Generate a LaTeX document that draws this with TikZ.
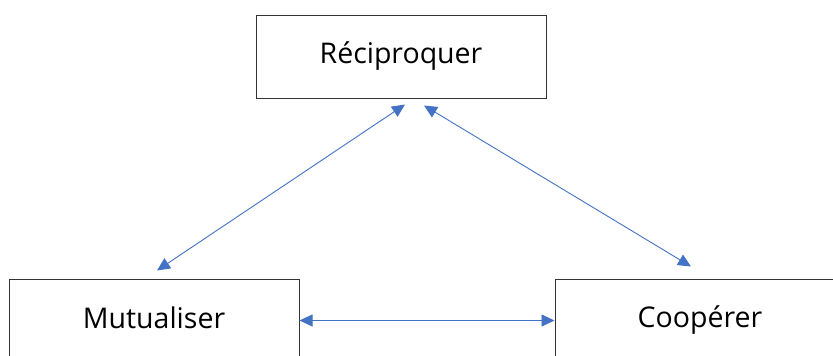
\documentclass[tikz,border=0pt]{standalone}
\usepackage{fontspec}
\setmainfont{Open Sans}
\usetikzlibrary{arrows.meta,calc}
\definecolor{framegray}{HTML}{333333}
\definecolor{linkblue}{HTML}{4472C4}
\begin{document}
\begin{tikzpicture}[x=1pt,y=1pt,
  box/.style={draw=framegray,line width=1pt,fill=white,minimum width=290pt,minimum height=83pt,inner sep=0pt,
    font=\fontsize{28.5}{34}\selectfont,text=black},
  link/.style={draw=linkblue,line width=0.9pt,{Triangle[length=13pt,width=12pt]}-{Triangle[length=13pt,width=12pt]}}]
  \useasboundingbox (0,0) rectangle (833,-356);
  \clip (0,0) rectangle (833,-356);
  \fill[white] (0,0) rectangle (833,-356);
  % three boxes
  \node[box] (rec) at (401,-56.5) {\raisebox{4pt}{Réciproquer}};
  \node[box] (mut) at (154,-320.5) {\raisebox{6pt}{Mutualiser}};
  \node[box] (coo) at (700,-320.5) {\raisebox{6pt}{Coopérer}};
  % connector ends
  \coordinate (recL) at ($(rec.south)+(4,-6)$);
  \coordinate (recR) at ($(rec.south)+(23,-7)$);
  \coordinate (mutT) at ($(mut.north)+(3,8)$);
  \coordinate (cooT) at ($(coo.north)+(-9,12)$);
  % links
  \draw[link] (recL) -- (mutT);
  \draw[link] (recR) -- (cooT);
  \draw[link] (mut.east) -- (coo.west);
\end{tikzpicture}
\end{document}
